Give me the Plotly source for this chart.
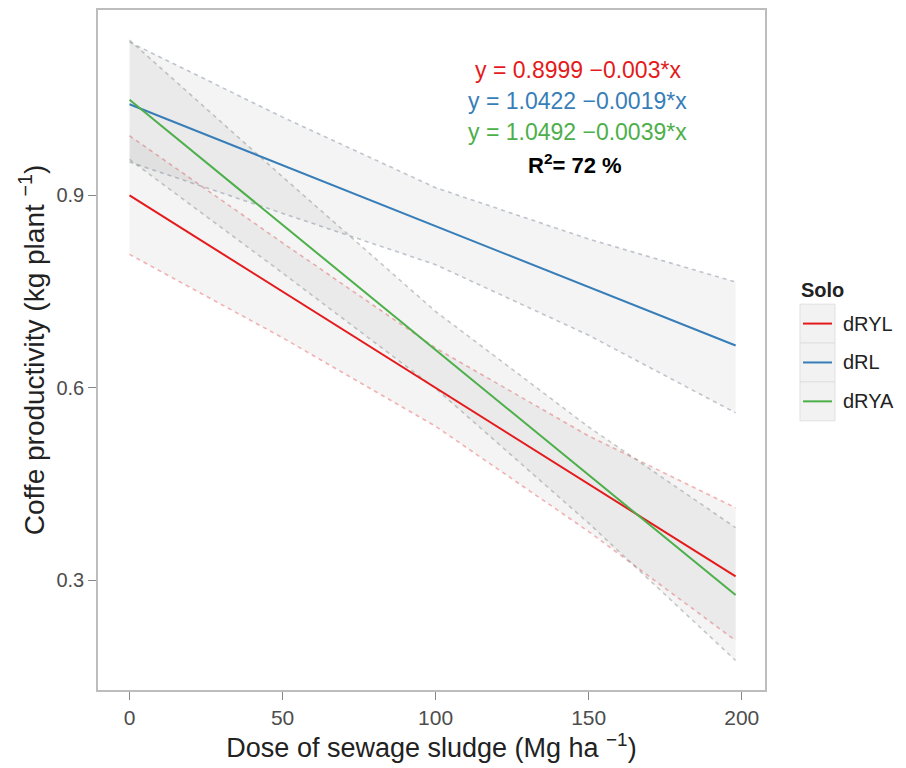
import plotly.graph_objects as go

# ---- data ----
groups = ["dRYL", "dRL", "dRYA"]
colors = ["#E41A1C", "#377EB8", "#4DAF4A"]
band_line_colors = ["rgba(228,26,28,0.32)", "rgba(120,130,150,0.45)", "rgba(130,140,130,0.45)"]

dose = [0, 50, 100, 150, 198]
fit_dRYL = [0.900, 0.750, 0.600, 0.450, 0.306]
fit_dRL = [1.042, 0.947, 0.852, 0.757, 0.666]
fit_dRYA = [1.049, 0.854, 0.659, 0.464, 0.277]

upper_dRYL = [0.993, 0.826, 0.662, 0.525, 0.413]
lower_dRYL = [0.808, 0.678, 0.540, 0.376, 0.206]
upper_dRL = [1.139, 1.022, 0.912, 0.832, 0.765]
lower_dRL = [0.952, 0.872, 0.792, 0.682, 0.561]
upper_dRYA = [1.142, 0.929, 0.719, 0.539, 0.382]
lower_dRYA = [0.956, 0.779, 0.599, 0.389, 0.175]

fits = [fit_dRYL, fit_dRL, fit_dRYA]
uppers = [upper_dRYL, upper_dRL, upper_dRYA]
lowers = [lower_dRYL, lower_dRL, lower_dRYA]

equations = ["y = 0.8999 \u22120.003*x", "y = 1.0422 \u22120.0019*x", "y = 1.0492 \u22120.0039*x"]
r2_text = "<b>R<sup>2</sup>= 72 %</b>"

x_ticks = [0, 50, 100, 150, 200]
y_ticks = [0.3, 0.6, 0.9]
y_tick_labels = ["0.3", "0.6", "0.9"]

# ---- layout geometry (page pixels; page body has an 8px offset) ----
OFF = 8
W, H = 906 - OFF, 768 - OFF
L, R, T, B = 98, 765, 8, 690
FONT = "Liberation Sans, Arial, sans-serif"


def px2paper(x, y):
    return (x - L) / (R - L), 1 - (y - T) / (B - T)


fig = go.Figure()

# ribbons
for g, up, lo, lc in zip(groups, uppers, lowers, band_line_colors):
    fig.add_trace(go.Scatter(x=dose, y=lo, mode="lines",
                             line=dict(color=lc, width=1.6, dash="4px,4px"),
                             hoverinfo="skip", showlegend=False))
    fig.add_trace(go.Scatter(x=dose, y=up, mode="lines",
                             line=dict(color=lc, width=1.6, dash="4px,4px"),
                             fill="tonexty", fillcolor="rgba(128,128,128,0.085)",
                             hoverinfo="skip", showlegend=False))

# fitted lines
for g, f, c in zip(groups, fits, colors):
    fig.add_trace(go.Scatter(x=[dose[0], dose[-1]], y=[f[0], f[-1]], mode="lines",
                             name=g, line=dict(color=c, width=2), showlegend=False))

# equations
eq_y = [1.095, 1.047, 0.999]
for txt, c, yy in zip(equations, colors, eq_y):
    fig.add_annotation(x=146.5, y=yy, text=txt, showarrow=False,
                       font=dict(family=FONT, size=23, color=c), xanchor="center", yanchor="middle")
fig.add_annotation(x=145.5, y=0.949, text=r2_text, showarrow=False,
                   font=dict(family=FONT, size=22, color="black"), xanchor="center", yanchor="middle")

# manual legend (ggplot-like keys)
shapes = []
tx, ty = px2paper(799, 289)
fig.add_annotation(xref="paper", yref="paper", x=tx, y=ty, text="<b>Solo</b>", showarrow=False,
                   xanchor="left", yanchor="middle", font=dict(family=FONT, size=20, color="#222"))
key_top = 303
key_h = 39
for i, (g, c) in enumerate(zip(groups, colors)):
    y0p = key_top + i * key_h
    x0, y0 = px2paper(800, y0p)
    x1, y1 = px2paper(835, y0p + key_h)
    shapes.append(dict(type="rect", xref="paper", yref="paper", x0=x0, y0=y0, x1=x1, y1=y1,
                       fillcolor="#f2f2f2", line=dict(color="#e0e0e0", width=1), layer="above"))
    xa, ym = px2paper(803, y0p + key_h / 2)
    xb, _ = px2paper(832, y0p + key_h / 2)
    shapes.append(dict(type="line", xref="paper", yref="paper", x0=xa, y0=ym, x1=xb, y1=ym,
                       line=dict(color=c, width=2), layer="above"))
    lxp, lyp = px2paper(841, y0p + key_h / 2)
    fig.add_annotation(xref="paper", yref="paper", x=lxp, y=lyp, text=g, showarrow=False,
                       xanchor="left", yanchor="middle", font=dict(family=FONT, size=20, color="#222"))

fig.update_layout(
    width=W, height=H,
    margin=dict(l=L - OFF, r=906 - R, t=T - OFF, b=768 - B, pad=0),
    paper_bgcolor="white", plot_bgcolor="white",
    shapes=shapes,
    showlegend=False,
    font=dict(family=FONT),
)
fig.update_xaxes(range=[-10.3, 207.6], tickvals=x_ticks, ticks="outside", ticklen=8,
                 tickcolor="#888", tickwidth=1.2, showgrid=False, zeroline=False,
                 showline=True, mirror=True, linecolor="#bdbdbd", linewidth=1.5,
                 tickfont=dict(family=FONT, size=21, color="#4d4d4d"),
                 title=dict(text="Dose of sewage sludge (Mg ha <sup>\u22121</sup>)",
                            font=dict(family=FONT, size=27, color="#222"), standoff=2))
fig.update_yaxes(range=[0.129, 1.189], tickvals=y_ticks, ticktext=y_tick_labels, ticks="outside",
                 ticklen=8, tickcolor="#888", tickwidth=1.2, showgrid=False, zeroline=False,
                 showline=True, mirror=True, linecolor="#bdbdbd", linewidth=1.5,
                 tickfont=dict(family=FONT, size=20, color="#4d4d4d"),
                 title=dict(text="Coffe productivity (kg plant <sup>\u22121</sup>)",
                            font=dict(family=FONT, size=28, color="#222"), standoff=4))

fig.write_html("out.html")
